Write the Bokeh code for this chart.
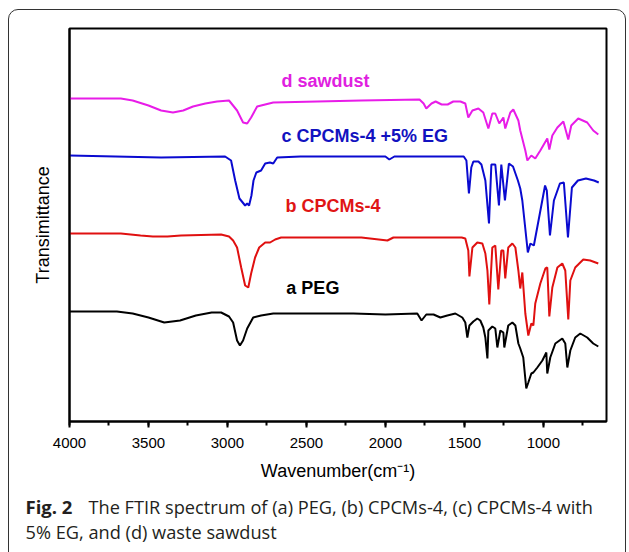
from bokeh.plotting import figure
from bokeh.models import Range1d, SingleIntervalTicker, FixedTicker, Label
from bokeh.layouts import column, row
from bokeh.core.properties import value
from bokeh.embed import file_html
from bokeh.resources import INLINE

# ---- data (wavenumber in cm^-1, transmittance in arbitrary offset units) ----
a_peg_wn = [4000, 3700, 3600, 3500, 3400, 3300, 3200, 3100, 3040, 2990, 2964, 2939, 2921, 2901, 2875,
            2837, 2787, 2710, 2203, 2000, 1798, 1771, 1741, 1695, 1652, 1608, 1557, 1513, 1494, 1481,
            1468, 1443, 1418, 1399, 1380, 1367, 1354, 1348, 1323, 1304, 1291, 1272, 1253, 1247, 1222,
            1196, 1177, 1158, 1146, 1127, 1108, 1095, 1076, 1063, 1038, 1006, 981, 975, 956, 924,
            880, 861, 848, 829, 798, 766, 722, 684, 652]
a_peg_t = [110, 110, 108, 104, 99, 101, 106, 109, 109, 105, 99, 81, 76, 81, 93,
           104, 106, 108, 108, 107, 108, 101, 107, 107, 104, 106, 108, 104, 99, 84,
           96, 100, 103, 101, 94, 84, 63, 91, 95, 93, 74, 91, 89, 74, 96,
           99, 96, 78, 73, 64, 33, 39, 48, 49, 54, 61, 69, 48, 64, 78,
           83, 78, 54, 71, 84, 88, 84, 78, 75]

b_cpcm_wn = [4000, 3675, 3550, 3472, 3380, 3294, 3040, 2990, 2964, 2939, 2913, 2888, 2868, 2850, 2825,
             2799, 2761, 2730, 2698, 2660, 2152, 1987, 1949, 1517, 1494, 1475, 1468, 1449, 1418, 1386,
             1367, 1354, 1342, 1323, 1304, 1285, 1266, 1253, 1241, 1222, 1196, 1177, 1158, 1146, 1133,
             1114, 1095, 1076, 1063, 1051, 1019, 987, 975, 962, 943, 911, 880, 861, 842, 829,
             798, 747, 703, 652]
b_cpcm_t = [188, 188, 186, 185, 185, 186, 187, 185, 181, 174, 154, 136, 134, 148, 164,
            174, 179, 179, 182, 184, 184, 181, 184, 184, 183, 171, 145, 174, 179, 178,
            168, 151, 117, 174, 176, 132, 171, 171, 143, 174, 178, 174, 151, 133, 149,
            108, 86, 98, 96, 118, 138, 153, 154, 105, 134, 154, 158, 151, 102, 141,
            154, 162, 161, 158]

c_cpcm_eg_wn = [4000, 3420, 3015, 2977, 2951, 2924, 2888, 2875, 2863, 2848, 2835, 2817, 2787, 2761, 2731,
                2710, 2685, 2538, 2000, 1975, 1943, 1504, 1487, 1471, 1456, 1443, 1411, 1392, 1367, 1344,
                1329, 1304, 1281, 1266, 1243, 1218, 1192, 1161, 1146, 1133, 1098, 1082, 1060, 1022, 989,
                978, 958, 933, 895, 870, 844, 819, 781, 730, 679, 649]
c_cpcm_eg_t = [266, 264, 265, 261, 241, 223, 216, 218, 216, 226, 241, 249, 251, 258, 259,
               258, 264, 265, 265, 262, 265, 265, 261, 228, 254, 260, 260, 257, 241, 198,
               257, 257, 216, 257, 221, 258, 255, 241, 233, 221, 169, 178, 176, 208, 236,
               231, 186, 221, 238, 239, 184, 234, 241, 243, 241, 239]

d_sawdust_wn = [4000, 3675, 3600, 3500, 3420, 3345, 3280, 3218, 3140, 3066, 2990, 2939, 2901, 2875, 2850,
                2812, 2710, 2152, 1784, 1758, 1741, 1708, 1682, 1644, 1606, 1570, 1525, 1494, 1475, 1449,
                1411, 1380, 1348, 1323, 1304, 1279, 1253, 1241, 1209, 1190, 1158, 1146, 1114, 1101, 1076,
                1051, 1019, 975, 962, 943, 911, 873, 842, 823, 779, 722, 684, 652]
d_sawdust_t = [323, 323, 321, 316, 311, 309, 311, 315, 318, 320, 321, 311, 299, 298, 304,
               315, 319, 321, 322, 318, 313, 318, 320, 317, 317, 320, 320, 318, 304, 311,
               313, 309, 293, 308, 308, 298, 304, 293, 309, 312, 301, 291, 271, 261, 266,
               263, 271, 283, 272, 286, 294, 300, 282, 296, 303, 299, 291, 287]

x_tick_interval = 500
series_names = ["a PEG", "b CPCMs-4", "c CPCMs-4 +5% EG", "d sawdust"]
caption_bold = "Fig. 2"
caption_line1 = "The FTIR spectrum of (a) PEG, (b) CPCMs-4, (c) CPCMs-4 with"
caption_line2 = "5% EG, and (d) waste sawdust"

# ---- main figure ----
p = figure(frame_width=537, frame_height=393, output_backend="svg", toolbar_location=None,
           x_range=Range1d(4000, 600), y_range=Range1d(0, 393),
           min_border_left=69, min_border_right=23, min_border_top=28, min_border_bottom=59)
p.xgrid.visible = False
p.ygrid.visible = False
p.outline_line_color = "black"
p.outline_line_width = 2
p.outline_line_alpha = 1
p.background_fill_color = "white"
p.border_fill_color = "white"

xa = p.xaxis[0]
xa.ticker = SingleIntervalTicker(interval=x_tick_interval, num_minor_ticks=2)
xa.axis_line_width = 2
xa.major_tick_line_width = 2
xa.minor_tick_line_width = 2
xa.major_tick_in = 0
xa.major_tick_out = 6
xa.minor_tick_in = 0
xa.minor_tick_out = 4
xa.major_label_standoff = 10
xa.major_label_text_font = "Liberation Sans"
xa.major_label_text_font_size = "15px"
xa.major_label_text_color = "black"
xa.axis_label = "Wavenumber(cm\u207b\u00b9)"
xa.axis_label_text_font = "Liberation Sans"
xa.axis_label_text_font_style = "normal"
xa.axis_label_text_font_size = "18px"
xa.axis_label_text_color = "black"
xa.axis_label_standoff = 10

ya = p.yaxis[0]
ya.ticker = FixedTicker(ticks=[])
ya.axis_line_width = 2
ya.major_tick_out = 0
ya.major_tick_in = 0
ya.minor_tick_out = 0
ya.minor_tick_in = 0
ya.major_label_standoff = 0
ya.axis_label = "Transimittance"
ya.axis_label_text_font = "Liberation Sans"
ya.axis_label_text_font_style = "normal"
ya.axis_label_text_font_size = "18px"
ya.axis_label_text_color = "black"
ya.axis_label_standoff = 17

colors = ["black", "#E01010", "#0A0AD0", "#E81CE8"]
text_colors = ["black", "#E01515", "#1212C0", "#E020E0"]
p.line(a_peg_wn, a_peg_t, line_color=colors[0], line_width=2)
p.line(b_cpcm_wn, b_cpcm_t, line_color=colors[1], line_width=2)
p.line(c_cpcm_eg_wn, c_cpcm_eg_t, line_color=colors[2], line_width=2)
p.line(d_sawdust_wn, d_sawdust_t, line_color=colors[3], line_width=2)

label_pos = [(2627, 134), (2633, 216), (2658, 286), (2658, 341)]
for name, (lx, ly), col in zip(series_names, label_pos, text_colors):
    p.add_layout(Label(x=lx, y=ly, text=name, text_color=col, text_font="Liberation Sans",
                       text_font_style="bold", text_font_size="18px",
                       text_align="left", text_baseline="middle"))

# ---- caption strip (its frame fills the whole strip; coordinates are pixels from top-left) ----
cap = figure(frame_width=629, frame_height=72, output_backend="svg", toolbar_location=None,
             x_range=Range1d(0, 629), y_range=Range1d(72, 0),
             x_axis_type=None, y_axis_type=None,
             min_border=0, min_border_left=0, min_border_right=0, min_border_top=0, min_border_bottom=0)
cap.xgrid.visible = False
cap.ygrid.visible = False
cap.outline_line_color = None
cap.background_fill_color = "white"
cap.border_fill_color = "white"
cap_font = value("Open Sans")
cap.text(x=[25], y=[23], text=[caption_bold], text_font=cap_font, text_font_style="bold",
         text_font_size="18.5px", text_color="#231f20", text_align="left", text_baseline="middle")
cap.text(x=[88], y=[23], text=[caption_line1], text_font=cap_font,
         text_font_size="18.2px", text_color="#231f20", text_align="left", text_baseline="middle")
cap.text(x=[25], y=[48], text=[caption_line2], text_font=cap_font,
         text_font_size="18.2px", text_color="#231f20", text_align="left", text_baseline="middle")

layout = column(p, row(cap, spacing=0), spacing=0)
layout.stylesheets = [":host { position: relative; } "
                      ":host::after { content: ''; position: absolute; left: 8px; top: 9px; "
                      "width: 618px; height: 560px; border: 1.5px solid #333; border-radius: 10px; "
                      "pointer-events: none; box-sizing: border-box; }"]

open("out.html", "w").write(file_html(layout, INLINE))
